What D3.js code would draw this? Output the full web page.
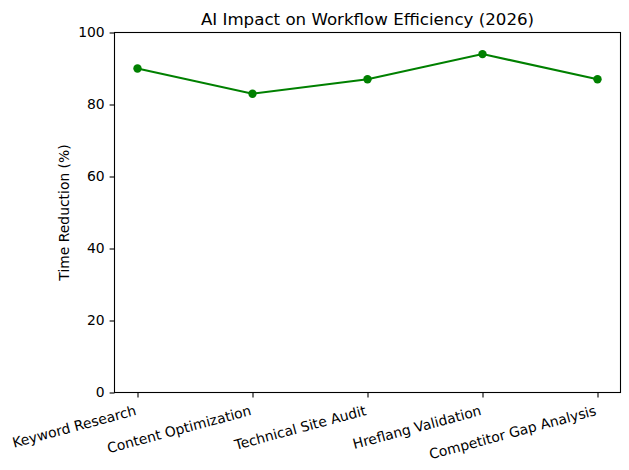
<!DOCTYPE html>
<html><head><meta charset="utf-8">
<script src="https://cdn.jsdelivr.net/npm/d3@7"></script>
<style>body{margin:0;background:#fff}svg{display:block}text{font-family:"DejaVu Sans",sans-serif}</style>
</head><body>
<svg id="c" width="629" height="470"></svg>
<script>
const categories = ["Keyword Research","Content Optimization","Technical Site Audit","Hreflang Validation","Competitor Gap Analysis"];
const values = [90, 83, 87, 94, 87];
const yTicks = [0, 20, 40, 60, 80, 100];
const title = "AI Impact on Workflow Efficiency (2026)";
const yLabel = "Time Reduction (%)";

const svg = d3.select("#c");
const L = 114.5, R = 620.5, T = 32.5, B = 392.5;
const x = d3.scaleLinear().domain([-0.2, categories.length - 1 + 0.2]).range([L, R]);
const y = d3.scaleLinear().domain([0, 100]).range([B, T]);
const fs = 13.9;

// line
const line = d3.line().x((d,i)=>x(i)).y(d=>y(d));
svg.append("path").datum(values).attr("d", line)
  .attr("fill","none").attr("stroke","#008000").attr("stroke-width",2.08);
svg.selectAll("circle.pt").data(values).enter().append("circle")
  .attr("cx",(d,i)=>x(i)).attr("cy",d=>y(d)).attr("r",4.2).attr("fill","#008000");

// frame
svg.append("rect").attr("x",L).attr("y",T).attr("width",R-L).attr("height",B-T)
  .attr("fill","none").attr("stroke","#000").attr("stroke-width",1.1);

// y axis
const ya = svg.append("g").attr("transform",`translate(${L},0)`)
  .call(d3.axisLeft(y).tickValues(yTicks).tickSize(4.9).tickPadding(4.9).tickFormat(d3.format("d")));
ya.select(".domain").remove();
ya.selectAll("line").attr("stroke","#000").attr("stroke-width",1.1);
ya.selectAll("text").attr("font-size",fs+"px").attr("fill","#000").attr("font-family","DejaVu Sans");

// x axis
const xa = svg.append("g").attr("transform",`translate(0,${B})`)
  .call(d3.axisBottom(x).tickValues(d3.range(categories.length)).tickSize(4.9).tickPadding(4.9).tickFormat(i=>categories[i]));
xa.select(".domain").remove();
xa.selectAll("line").attr("stroke","#000").attr("stroke-width",1.1);
xa.selectAll("text").attr("font-size",fs+"px").attr("fill","#000").attr("font-family","DejaVu Sans")
  .attr("text-anchor","end").attr("dy",null).attr("y",null)
  .attr("transform","translate(-0.9,22.3) rotate(-15)");

// title
svg.append("text").attr("x",(L+R)/2).attr("y",25).attr("text-anchor","middle")
  .attr("font-size","16.67px").attr("fill","#000").text(title);
// y label
svg.append("text").attr("transform",`translate(69,${(T+B)/2}) rotate(-90)`).attr("text-anchor","middle")
  .attr("font-size",fs+"px").attr("fill","#000").text(yLabel);
</script>
</body></html>
